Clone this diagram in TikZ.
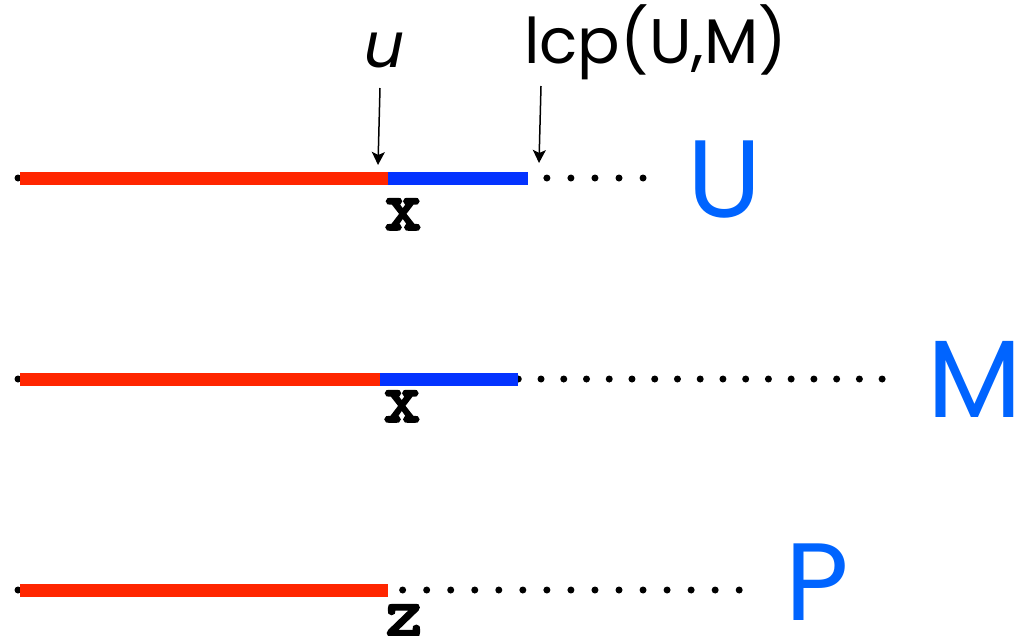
\documentclass[tikz,border=0pt]{standalone}
\usepackage{fontspec}
\setmainfont{Poppins}
\newfontfamily\slantfont[FakeSlant=0.2]{Poppins}
\newfontfamily\codefont[AutoFakeBold=4]{Latin Modern Mono}
\usetikzlibrary{arrows.meta,positioning}
\definecolor{PrefixRed}{HTML}{FF2600}
\definecolor{SuffixBlue}{HTML}{0433FF}
\definecolor{NameBlue}{HTML}{0064FF}

\begin{document}
\begin{tikzpicture}[x=1pt,y=-1pt,
  dotline/.style={line width=7pt,line cap=round,dash pattern=on 0pt off #1},
  redpart/.style={PrefixRed,line width=13pt},
  bluepart/.style={SuffixBlue,line width=13pt},
  pointer/.style={-{Stealth[length=13pt,width=13pt,inset=3pt]},line width=1.5pt},
  strname/.style={NameBlue,font=\fontsize{110}{116}\selectfont,inner sep=0pt},
  idxlabel/.style={font=\fontsize{70}{76}\selectfont\codefont\bfseries,inner sep=0pt},
  marklabel/.style={font=\fontsize{63}{70}\selectfont,inner sep=0pt}]
  \useasboundingbox (0,0) rectangle (1022,635);

  \coordinate (us) at (18,178);
  \coordinate (ua) at (20,178);
  \coordinate (ub) at (388,178);
  \coordinate (uc) at (528,178);
  \coordinate (ue) at (646,178);
  \draw[dotline=24.04pt] (us) -- (ue);
  \draw[redpart] (ua) -- (ub);
  \draw[bluepart] (ub) -- (uc);
  \node[idxlabel,anchor=north] (ux) at (403,199) {x};
  \node[strname,anchor=base] (U) at (725,217) {U};

  \coordinate (ms) at (18,379);
  \coordinate (ma) at (20,379);
  \coordinate (mb) at (380,379);
  \coordinate (mc) at (518,379);
  \coordinate (me) at (885,379);
  \draw[dotline=22.74pt] (ms) -- (me);
  \draw[redpart] (ma) -- (mb);
  \draw[bluepart] (mb) -- (mc);
  \node[idxlabel,anchor=north] (mx) at (402,391) {x};
  \node[strname,anchor=base] (M) at (975,417) {M};

  \coordinate (ps) at (18,590);
  \coordinate (pa) at (20,590);
  \coordinate (pb) at (388,590);
  \coordinate (pe) at (742,590);
  \draw[dotline=24.04pt] (ps) -- (pe);
  \draw[redpart] (pa) -- (pb);
  \node[idxlabel,anchor=north] (pz) at (404,605) {z};
  \node[strname,anchor=base west] (P) at (785,620) {P};

  \node[marklabel,anchor=base west] (u) at (360,67) {\slantfont u};
  \node[marklabel,anchor=base west] (lcp) at (524,63) {lcp(U,M)};
  \coordinate (utop) at (380,88);
  \coordinate (utip) at (378,165);
  \coordinate (ltop) at (541,86);
  \coordinate (ltip) at (539,163);
  \draw[pointer] (utop) -- (utip);
  \draw[pointer] (ltop) -- (ltip);
\end{tikzpicture}
\end{document}
